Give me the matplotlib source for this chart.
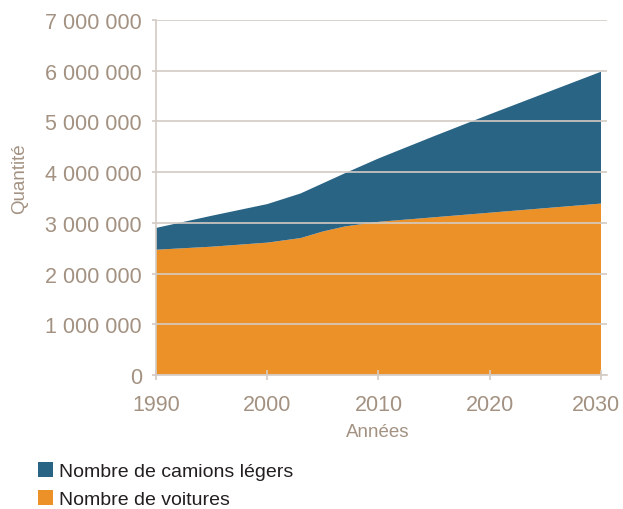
import numpy as np
import matplotlib
matplotlib.use("Agg")
import matplotlib.pyplot as plt
import matplotlib.transforms as mtransforms
from matplotlib.patches import Patch
from matplotlib.ticker import FuncFormatter

plt.rcParams['font.family'] = ['Liberation Sans', 'DejaVu Sans']

# Data
years = [1990, 1995, 2000, 2003, 2005, 2007, 2010, 2015, 2020, 2025, 2030]
voitures = [2470000, 2530000, 2610000, 2700000, 2830000, 2930000, 3020000,
            3110000, 3200000, 3290000, 3380000]
camions = [430000, 610000, 760000, 880000, 950000, 1050000, 1250000,
           1600000, 1940000, 2270000, 2600000]
labels = ['Nombre de voitures', 'Nombre de camions légers']
xticks = [1990, 2000, 2010, 2020, 2030]
yticks = [0, 1000000, 2000000, 3000000, 4000000, 5000000, 6000000, 7000000]

# Styling
c_orange = '#ec9028'
c_blue = '#2a6485'
c_text = '#a39282'
c_grid = '#d3cbc3'
c_legend = '#231f20'

fig = plt.figure(figsize=(6.23, 5.10), dpi=100)
ax = fig.add_axes([156/623, 134/510, 451/623, 355/510])

ax.stackplot(years, voitures, camions, colors=[c_orange, c_blue],
             linewidth=0, zorder=1)

ax.set_xlim(1990, 2030.54)
ax.set_ylim(0, 7000000)
ax.set_xticks(xticks)
ax.set_yticks(yticks)
ax.yaxis.set_major_formatter(FuncFormatter(lambda v, p: '{:,.0f}'.format(v).replace(',', ' ')))

ax.set_axisbelow(False)
ax.grid(axis='y', color=c_grid, linewidth=1.2, zorder=3)

for s in ['top', 'right']:
    ax.spines[s].set_visible(False)
for s in ['left', 'bottom']:
    ax.spines[s].set_color(c_grid)
    ax.spines[s].set_linewidth(1.2)
    ax.spines[s].set_zorder(4)

ax.tick_params(axis='y', colors=c_grid, labelcolor=c_text, labelsize=15.5,
               length=3, width=1.2, pad=7)
ax.tick_params(axis='x', colors=c_grid, labelcolor=c_text, labelsize=15.5,
               direction='inout', length=7, width=1.2, pad=10)

# nudge the last year label so it stays inside the figure
last = ax.get_xticklabels()[-1]
last.set_transform(last.get_transform() + mtransforms.ScaledTranslation(-5/100, 0, fig.dpi_scale_trans))

ax.set_xlabel('Années', color=c_text, fontsize=13.5)
ax.set_ylabel('Quantité', color=c_text, fontsize=13.5)
ax.xaxis.set_label_coords((378 - 156) / 451, (376 - 424) / 355)
ax.yaxis.set_label_coords((28 - 156) / 451, (376 - 179) / 355)

handles = [Patch(facecolor=c_blue, edgecolor='none'),
           Patch(facecolor=c_orange, edgecolor='none')]
fig.legend(handles, [labels[1], labels[0]], loc='upper left',
           bbox_to_anchor=(30/623, 1 - 455/510), frameon=False,
           fontsize=14, handlelength=0.8, handleheight=0.8,
           handletextpad=0.3, labelspacing=0.5, borderaxespad=0,
           labelcolor=c_legend)

fig.savefig('out.png', dpi=100)
